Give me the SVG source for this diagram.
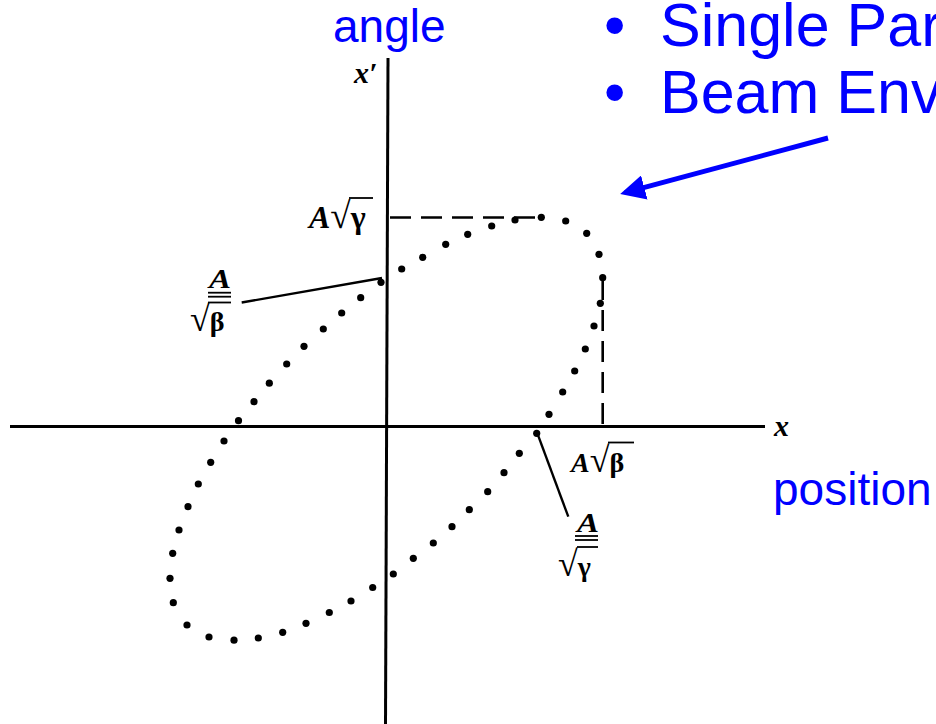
<svg xmlns="http://www.w3.org/2000/svg" width="936" height="724" viewBox="0 0 936 724">
<style>
.ax{stroke:#000;stroke-width:3;fill:none}
.dash{stroke:#000;stroke-width:2.6;fill:none;stroke-dasharray:21 10}
.lead{stroke:#000;stroke-width:2.4;fill:none}
.bar{stroke:#000;stroke-width:1.8}
.dot{fill:#000}
.m{font-family:"Liberation Serif","DejaVu Serif",serif;font-weight:bold;fill:#000}
.mi{font-style:italic}
.blue{font-family:"Liberation Sans",Arial,sans-serif;fill:#0000FF}
</style>
<defs>
<marker id="ah" markerWidth="5" markerHeight="5" refX="4" refY="2.5" orient="auto" markerUnits="strokeWidth">
<path d="M0,0 L5,2.5 L0,5 Z" fill="#0000FF"/>
</marker>
</defs>
<rect width="936" height="724" fill="#fff"/>
<g id="axes">
<line class="ax" x1="388" y1="58" x2="385.5" y2="724"/>
<line class="ax" x1="10" y1="426.5" x2="765" y2="426.5"/>
<line class="dash" x1="390" y1="217.5" x2="541" y2="217.5"/>
<line class="dash" x1="602.7" y1="279" x2="602.7" y2="426"/>
</g>
<g id="ellipse-dots" class="dot">
<circle cx="381" cy="282.3" r="3.6"/>
<circle cx="401.7" cy="269" r="3.6"/>
<circle cx="422.7" cy="257.3" r="3.6"/>
<circle cx="445.7" cy="244.3" r="3.6"/>
<circle cx="467.7" cy="234.3" r="3.6"/>
<circle cx="491.7" cy="226" r="3.6"/>
<circle cx="515" cy="220" r="3.6"/>
<circle cx="541.3" cy="217.3" r="3.6"/>
<circle cx="565.7" cy="221" r="3.6"/>
<circle cx="586.7" cy="233.3" r="3.6"/>
<circle cx="599" cy="254.3" r="3.6"/>
<circle cx="602.7" cy="277.7" r="3.6"/>
<circle cx="600.3" cy="303.3" r="3.6"/>
<circle cx="594" cy="326" r="3.6"/>
<circle cx="585.3" cy="349" r="3.6"/>
<circle cx="574.7" cy="371" r="3.6"/>
<circle cx="562.7" cy="392" r="3.6"/>
<circle cx="549" cy="414.3" r="3.6"/>
<circle cx="536.7" cy="433.3" r="3.6"/>
<circle cx="519.3" cy="453.3" r="3.6"/>
<circle cx="504" cy="472.7" r="3.6"/>
<circle cx="487.7" cy="491.7" r="3.6"/>
<circle cx="469.3" cy="509.7" r="3.6"/>
<circle cx="452" cy="526.7" r="3.6"/>
<circle cx="433.3" cy="543" r="3.6"/>
<circle cx="413.3" cy="558.3" r="3.6"/>
<circle cx="393.3" cy="574" r="3.6"/>
<circle cx="372.7" cy="587.5" r="3.6"/>
<circle cx="351" cy="601" r="3.6"/>
<circle cx="329.3" cy="612.5" r="3.6"/>
<circle cx="306" cy="623.3" r="3.6"/>
<circle cx="282.7" cy="632.3" r="3.6"/>
<circle cx="258.3" cy="638" r="3.6"/>
<circle cx="234" cy="640.2" r="3.6"/>
<circle cx="209" cy="637" r="3.6"/>
<circle cx="187" cy="625" r="3.6"/>
<circle cx="173.3" cy="602.7" r="3.6"/>
<circle cx="170" cy="578.3" r="3.6"/>
<circle cx="172.7" cy="553.3" r="3.6"/>
<circle cx="179" cy="530" r="3.6"/>
<circle cx="188" cy="506.7" r="3.6"/>
<circle cx="198.3" cy="484" r="3.6"/>
<circle cx="210.7" cy="462.3" r="3.6"/>
<circle cx="224" cy="441" r="3.6"/>
<circle cx="238.5" cy="420.7" r="3.6"/>
<circle cx="254" cy="401.7" r="3.6"/>
<circle cx="269.3" cy="383.2" r="3.6"/>
<circle cx="286.7" cy="364" r="3.6"/>
<circle cx="304" cy="346.3" r="3.6"/>
<circle cx="323.3" cy="329" r="3.6"/>
<circle cx="341.7" cy="313" r="3.6"/>
<circle cx="360.7" cy="297.7" r="3.6"/>
</g>
<g id="connectors">
<line class="lead" x1="241.7" y1="302.5" x2="382" y2="278"/>
<line class="lead" x1="536.7" y1="431.7" x2="568.3" y2="516.7"/>
<line x1="828" y1="138" x2="625" y2="192.7" stroke="#0000FF" stroke-width="5" marker-end="url(#ah)"/>
</g>
<g id="label-xprime"><text class="m mi" x="354" y="83" font-size="30">x′</text></g>
<g id="label-x"><text class="m mi" x="774" y="436" font-size="30">x</text></g>
<g id="label-Asqrtgamma">
<text class="m" x="309" y="228" font-size="32"><tspan class="mi">A</tspan><tspan font-size="37" font-weight="normal">√</tspan>γ</text>
<line class="bar" x1="349" y1="198" x2="373" y2="198"/>
</g>
<g id="label-A-over-sqrtbeta">
<text class="m mi" x="209" y="288" font-size="27" textLength="22" lengthAdjust="spacingAndGlyphs">A</text>
<line class="bar" x1="208" y1="292.7" x2="231" y2="292.7"/>
<line class="bar" x1="208" y1="296.7" x2="231" y2="296.7"/>
<text class="m" x="190" y="331" font-size="28"><tspan font-size="36" font-weight="normal">√</tspan>β</text>
<line class="bar" x1="208" y1="302.5" x2="231" y2="302.5"/>
</g>
<g id="label-Asqrtbeta">
<text class="m" x="571" y="472" font-size="28"><tspan class="mi">A</tspan><tspan font-size="36" font-weight="normal">√</tspan>β</text>
<line class="bar" x1="608" y1="442.5" x2="634" y2="442.5"/>
</g>
<g id="label-A-over-sqrtgamma">
<text class="m mi" x="577" y="532" font-size="27" textLength="22" lengthAdjust="spacingAndGlyphs">A</text>
<line class="bar" x1="575" y1="536" x2="598" y2="536"/>
<line class="bar" x1="575" y1="540" x2="598" y2="540"/>
<text class="m" x="558" y="576" font-size="28"><tspan font-size="36" font-weight="normal">√</tspan>γ</text>
<line class="bar" x1="577" y1="547" x2="598" y2="547"/>
</g>
<g id="label-angle"><text class="blue" x="333" y="42" font-size="46">angle</text></g>
<g id="label-position"><text class="blue" x="773" y="505" font-size="46">position</text></g>
<g id="bullets">
<text class="blue" x="604" y="46" font-size="61">•</text>
<text class="blue" x="660" y="46" font-size="61">Single Par</text>
<text class="blue" x="604" y="113" font-size="61">•</text>
<text class="blue" x="660" y="113" font-size="61">Beam Env</text>
</g>
</svg>
